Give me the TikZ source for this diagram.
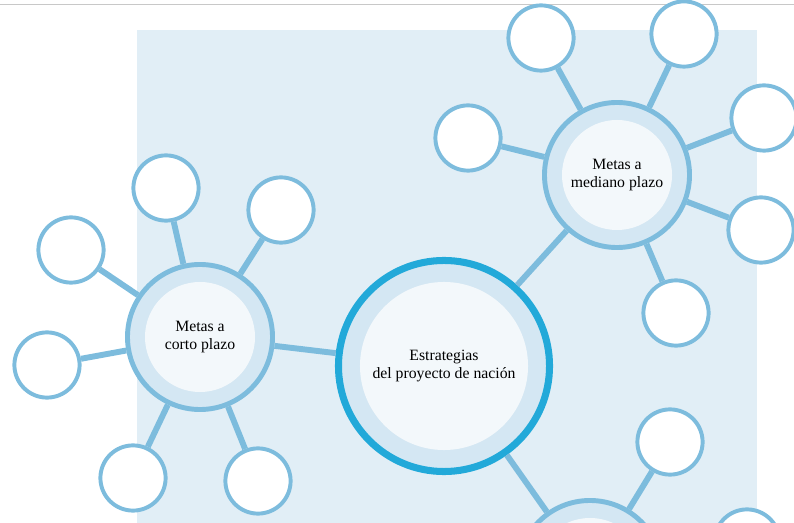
\documentclass[tikz,border=0pt]{standalone}
\usepackage{fontspec}
\setmainfont{Liberation Serif}
\definecolor{paneblue}{HTML}{E1EEF6}
\definecolor{ringblue}{HTML}{D4E7F3}
\definecolor{coreblue}{HTML}{F3F8FB}
\definecolor{lineblue}{HTML}{7DBCDD}
\definecolor{mainblue}{HTML}{22A9D9}
\definecolor{rulegray}{HTML}{C8C8C8}
\tikzset{
  hub/.style={circle, draw=lineblue, line width=3.5pt, fill=ringblue, inner sep=0pt,
    minimum size=3.625cm, align=center, font=\fontsize{11.2}{12.5}\selectfont,
    path picture={\fill[coreblue] (path picture bounding box.center) circle (1.375cm);}},
  bighub/.style={hub, draw=mainblue, line width=5pt, minimum size=5.275cm,
    path picture={\fill[coreblue] (path picture bounding box.center) circle (2.1cm);}},
  leaf/.style={circle, draw=lineblue, line width=2.8pt, fill=white, minimum size=1.63cm, inner sep=0pt},
  link/.style={lineblue, line width=4.2pt}
}
\begin{document}
\begin{tikzpicture}[x=0.025cm, y=-0.025cm]
  \useasboundingbox (0,0) rectangle (794,523);
  \draw[rulegray, line width=0.8pt] (0,4.5)--(794,4.5);
  \fill[paneblue] (137,30) rectangle (757,523);

  \node[bighub] (plan) at (444,366) {Estrategias\\del proyecto de nación};
  \node[hub] (corto) at (200,337) {Metas a\\corto plazo};
  \node[hub] (mediano) at (617,175) {Metas a\\mediano plazo};
  \node[hub] (largo) at (590,573) {};

  \node[leaf] (c1) at (166,188) {};
  \node[leaf] (c2) at (281,210) {};
  \node[leaf] (c3) at (71,250) {};
  \node[leaf] (c4) at (47,365) {};
  \node[leaf] (c5) at (133,478) {};
  \node[leaf] (c6) at (258,481) {};

  \node[leaf] (m1) at (541,38) {};
  \node[leaf] (m2) at (684,34) {};
  \node[leaf] (m3) at (468,138) {};
  \node[leaf] (m4) at (764,118) {};
  \node[leaf] (m5) at (761,230) {};
  \node[leaf] (m6) at (676,313) {};

  \node[leaf] (l1) at (670,442) {};
  \node[leaf] (l2) at (747,542) {};

  \draw[link] (plan)--(corto);
  \draw[link] (plan)--(mediano);
  \draw[link] (plan)--(largo);
  \draw[link] (corto)--(c1);
  \draw[link] (corto)--(c2);
  \draw[link] (corto)--(c3);
  \draw[link] (corto)--(c4);
  \draw[link] (corto)--(c5);
  \draw[link] (corto)--(c6);
  \draw[link] (mediano)--(m1);
  \draw[link] (mediano)--(m2);
  \draw[link] (mediano)--(m3);
  \draw[link] (mediano)--(m4);
  \draw[link] (mediano)--(m5);
  \draw[link] (mediano)--(m6);
  \draw[link] (largo)--(l1);
  \draw[link] (largo)--(l2);
\end{tikzpicture}
\end{document}
